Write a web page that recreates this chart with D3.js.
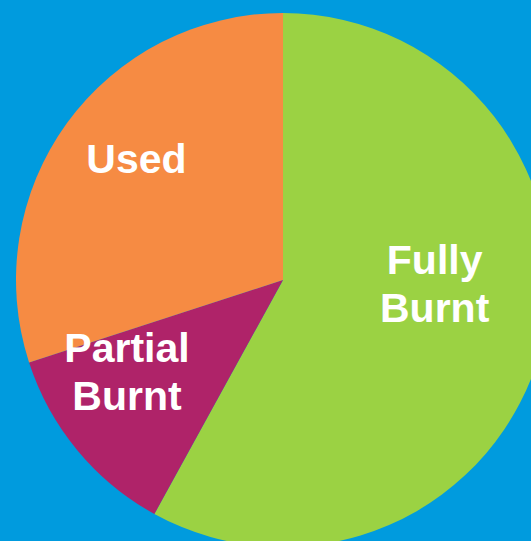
<!DOCTYPE html>
<html lang="en">
<head>
    <meta charset="UTF-8">
    <title>Burn status</title>
    <script src="https://d3js.org/d3.v7.min.js"></script>
    <style>
        /* full-bleed blue background, chart clipped at the edges */
        html, body {
            margin: 0;
            padding: 0;
            background-color: #009bde;
            overflow: hidden;
        }
        #chart text {
            font-family: "Liberation Sans", Arial, sans-serif;
            font-weight: bold;
            fill: #ffffff;
        }
    </style>
</head>
<body>
    <div id="chart"></div>

    <script>
        // data (percent of total, clockwise from 12 o'clock)
        const categories = ["Fully Burnt", "Partial Burnt", "Used"];
        const shares = [58, 12, 30];
        const colours = ["#9bd243", "#af2369", "#f68b43"];
        // label nudges (px) from the arc centroid, same order as categories
        const labelNudge = [[-13, -39], [-25, -17], [-9, -22]];

        const width = 531, height = 541;
        const cx = 283, cy = 280, radius = 267;
        const fontSize = 41, lineHeight = 48;

        const svg = d3.select("#chart")
            .append("svg")
            .attr("width", width)
            .attr("height", height);

        const g = svg.append("g")
            .attr("transform", `translate(${cx},${cy})`);

        const pie = d3.pie()
            .value(d => d.value)
            .sort(null);

        const arcs = pie(categories.map((c, i) => ({ name: c, value: shares[i], i: i })));

        const arc = d3.arc().innerRadius(0).outerRadius(radius);
        const labelArc = d3.arc().innerRadius(170).outerRadius(170);

        // slices
        g.selectAll("path")
            .data(arcs)
            .enter()
            .append("path")
            .attr("d", arc)
            .style("fill", d => colours[d.data.i]);

        // labels, split on the space into two lines where needed
        const labels = g.selectAll("text")
            .data(arcs)
            .enter()
            .append("text")
            .attr("text-anchor", "middle")
            .style("font-size", fontSize + "px");

        labels.each(function(d) {
            const c = labelArc.centroid(d);
            const x = c[0] + labelNudge[d.data.i][0];
            const y = c[1] + labelNudge[d.data.i][1];
            const words = d.data.name === "Used" ? ["Used"] : d.data.name.split(" ");
            const cap = fontSize * 0.716;
            const first = y - (words.length - 1) * lineHeight / 2 + cap / 2;
            const t = d3.select(this);
            words.forEach((w, k) => {
                t.append("tspan")
                    .attr("x", x)
                    .attr("y", first + k * lineHeight)
                    .text(w);
            });
        });
    </script>
</body>
</html>
